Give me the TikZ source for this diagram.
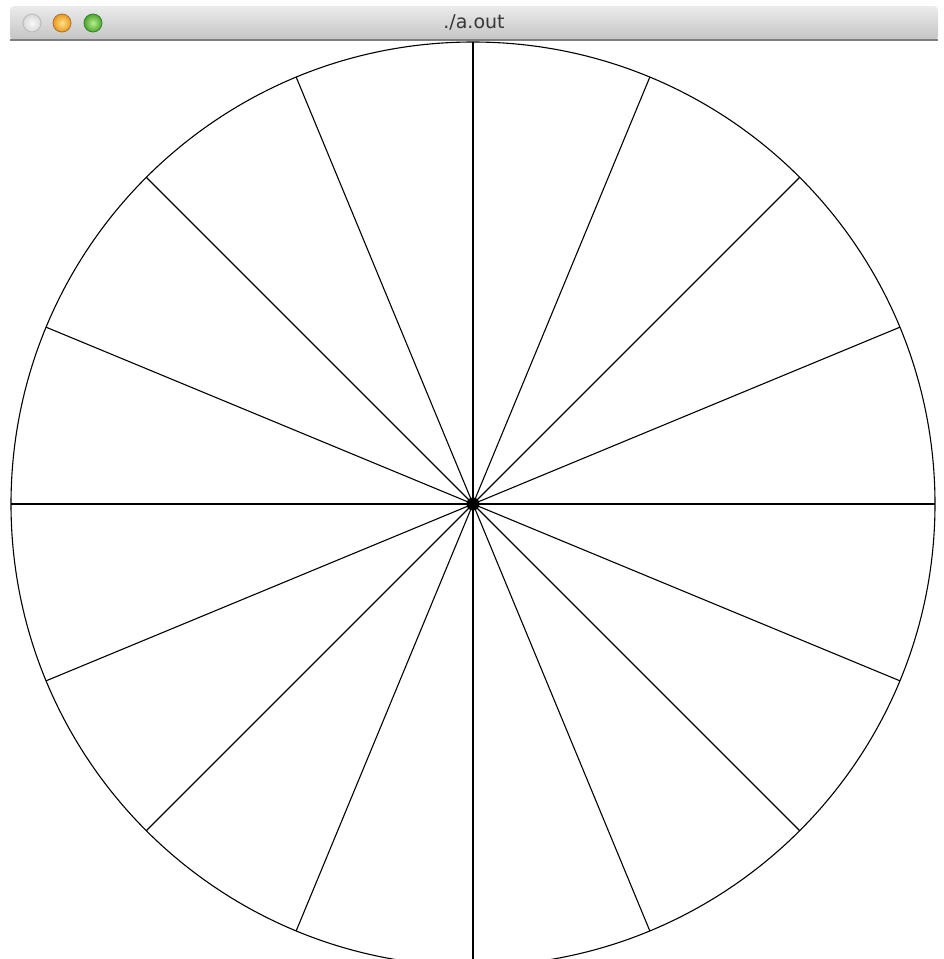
\documentclass[tikz,border=0pt]{standalone}
\usepackage{fontspec}
\setmainfont{DejaVu Sans}
\usetikzlibrary{calc}
\definecolor{barTop}{HTML}{EBEBEB}
\definecolor{barBot}{HTML}{C4C4C4}
\definecolor{barLine}{HTML}{7E7E7E}
\definecolor{goldIn}{HTML}{FFE08A}
\definecolor{goldOut}{HTML}{E89A1C}
\definecolor{greenIn}{HTML}{B8F08C}
\definecolor{greenOut}{HTML}{4CA32C}
\begin{document}
\begin{tikzpicture}[x=1pt,y=-1pt,
  spoke/.style={line width=1.1pt,black},
  rim/.style={line width=1.1pt,black},
  hubdot/.style={circle,fill=black,draw=black,line width=1pt,minimum size=12pt,inner sep=0pt},
  light/.style={circle,minimum size=18pt,inner sep=0pt,line width=0.8pt}]
\useasboundingbox (0,0) rectangle (943,959);
\fill[white] (0,0) rectangle (943,959);
% title bar
\shade[top color=barTop,bottom color=barBot,rounded corners=4pt]
  (10,40) -- (10,6) -- (938,6) -- (938,40) -- cycle;
\fill[barLine] (10,38.5) rectangle (938,40.5);
\node[light,draw=gray!55,inner color=gray!5,outer color=gray!30] (close) at (32,23) {};
\node[light,draw=orange!60!black!80,inner color=goldIn,outer color=goldOut] (mini) at (62,23) {};
\node[light,draw=green!40!black!80,inner color=greenIn,outer color=greenOut] (zoom) at (93,23) {};
\node[text=black!78,font=\fontsize{19}{21}\selectfont] (title) at (474,22) {./a.out};
% drawing area
\coordinate (c) at (473,504);
\foreach \i in {0,...,15}{
  \coordinate (p\i) at ($(c)+({\i*22.5}:462)$);
}
\begin{scope}
\clip (0,41) rectangle (943,959);
\draw[rim] (c) circle[radius=462];
\foreach \i in {0,...,15}{
  \draw[spoke] (c) -- (p\i);
}
\end{scope}
\fill[black] (473,504) circle[radius=5.5];
\node[hubdot] (hub) at (473,504) {};
\end{tikzpicture}
\end{document}
